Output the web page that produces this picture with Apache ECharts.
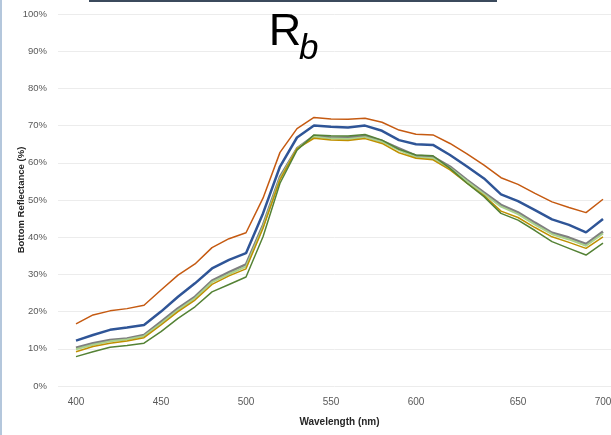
<!DOCTYPE html>
<html>
<head>
<meta charset="utf-8">
<script src="https://cdn.jsdelivr.net/npm/echarts@6/dist/echarts.min.js"></script>
<style>
html,body{margin:0;padding:0;background:#fff;}
#chart{width:611px;height:435px;}
</style>
</head>
<body>
<div id="chart"></div>
<script>
// Wavelength categories (nm)
var wavelengths = ['400','410','420','430','440','450','460','470','480','490','500','510','520','530','540','550','560','570','580','590','600','610','620','630','640','645','650','660','670','680','690','700'];
var labelledWavelengths = ['400','450','500','550','600','650','700'];
var yTicks = [0,10,20,30,40,50,60,70,80,90,100];

// Bottom reflectance (%) per series
var seriesOrange = [16.7,19.1,20.2,20.8,21.7,25.8,29.8,32.8,37.2,39.6,41.2,50.5,62.8,69.2,72.2,71.8,71.7,72.0,70.9,68.8,67.7,67.5,65.2,62.4,59.4,56.0,54.2,51.8,49.5,48.0,46.6,50.2];
var seriesBlue   = [12.2,13.7,15.1,15.7,16.4,20.0,24.0,27.6,31.6,33.9,35.7,46.4,59.0,66.8,70.0,69.7,69.5,70.0,68.6,66.1,65.0,64.8,62.1,59.0,55.8,51.5,49.7,47.3,44.8,43.3,41.3,44.9];
var seriesGray   = [10.3,11.5,12.4,12.8,13.7,17.3,20.9,24.0,28.3,30.6,32.7,43.3,56.3,63.9,67.2,66.8,66.8,67.2,65.9,63.9,61.9,61.6,59.0,55.4,52.0,48.7,46.7,43.9,41.2,39.9,38.2,41.5];
var seriesLightGreen = [9.9,11.1,12.0,12.5,13.4,16.8,20.4,23.6,27.9,30.1,32.1,42.8,55.8,63.8,67.0,66.5,66.4,66.9,65.6,63.4,61.5,61.2,58.6,55.0,51.6,48.2,46.2,43.4,40.8,39.4,37.7,41.0];
var seriesGold   = [9.2,10.6,11.5,12.1,13.0,16.4,20.0,23.1,27.3,29.6,31.5,42.4,55.5,63.8,66.6,66.1,66.0,66.5,65.2,62.7,61.2,60.8,58.1,54.5,51.2,47.0,45.3,42.6,40.1,38.6,37.0,40.1];
var seriesGreen  = [7.9,9.2,10.4,10.9,11.5,14.6,18.2,21.3,25.3,27.3,29.3,40.1,54.5,63.4,67.5,67.3,67.2,67.6,66.1,63.6,62.1,61.9,58.5,54.5,50.9,46.4,44.6,41.8,38.8,37.0,35.2,38.4];

var font = 'Liberation Sans';
var chart = echarts.init(document.getElementById('chart'), null, {renderer:'canvas'});
function mk(name, data, color, width){
  return {name:name, type:'line', xAxisIndex:1, yAxisIndex:1, data:data, symbol:'none',
    lineStyle:{color:color, width:width}, itemStyle:{color:color}, animation:false};
}
chart.setOption({
  animation:false,
  backgroundColor:'#ffffff',
  grid:[
    {left:58, right:0, top:14, bottom:49, outerBoundsMode:'none', containLabel:false},
    {left:76, right:8, top:14, bottom:49, outerBoundsMode:'none', containLabel:false}
  ],
  xAxis:[
    {gridIndex:0, type:'value', show:false, min:0, max:1},
    {gridIndex:1, type:'category', data:wavelengths, boundaryGap:false,
     axisLine:{show:false}, axisTick:{show:false}, splitLine:{show:false},
     axisLabel:{color:'#595959', fontFamily:font, fontSize:10, margin:11,
       interval:function(i, v){ return labelledWavelengths.indexOf(v) >= 0; }},
     name:'Wavelength (nm)', nameLocation:'middle', nameGap:31, nameMoveOverlap:false,
     nameTextStyle:{color:'#262626', fontFamily:font, fontSize:10, fontWeight:'bold'}}
  ],
  yAxis:[
    {gridIndex:0, type:'value', min:yTicks[0], max:yTicks[yTicks.length-1], interval:10,
     axisLine:{show:false}, axisTick:{show:false},
     splitLine:{lineStyle:{color:'#ECECEC', width:1}},
     axisLabel:{color:'#595959', fontFamily:font, fontSize:9.5, margin:11, formatter:'{value}%'},
     name:'Bottom Reflectance (%)', nameLocation:'middle', nameGap:32, nameMoveOverlap:false,
     nameTextStyle:{color:'#262626', fontFamily:font, fontSize:9.5, fontWeight:'bold'}},
    {gridIndex:1, type:'value', min:yTicks[0], max:yTicks[yTicks.length-1], show:false, splitLine:{show:false}}
  ],
  graphic:[
    {type:'text', x:285, y:33, z:100, style:{text:'R', font:'45px Liberation Sans', fill:'#000', textAlign:'center', textVerticalAlign:'middle'}},
    {type:'text', x:299, y:49, z:100, style:{text:'b', font:'italic 35px Liberation Sans', fill:'#000', textAlign:'left', textVerticalAlign:'middle'}},
    {type:'rect', shape:{x:89, y:0, width:408, height:2}, style:{fill:'#3B4A5C'}},
    {type:'rect', shape:{x:0, y:0, width:2, height:435}, style:{fill:'#B4C7DC'}}
  ],
  series:[
    mk('S1', seriesOrange, '#C55A11', 1.5),
    mk('S2', seriesBlue, '#2F5597', 2.5),
    mk('S3', seriesGray, '#7F7F7F', 2.5),
    mk('S4', seriesLightGreen, '#A9D18E', 2),
    mk('S5', seriesGold, '#BF9000', 1.5),
    mk('S6', seriesGreen, '#548235', 1.5)
  ]
});
</script>
</body>
</html>
